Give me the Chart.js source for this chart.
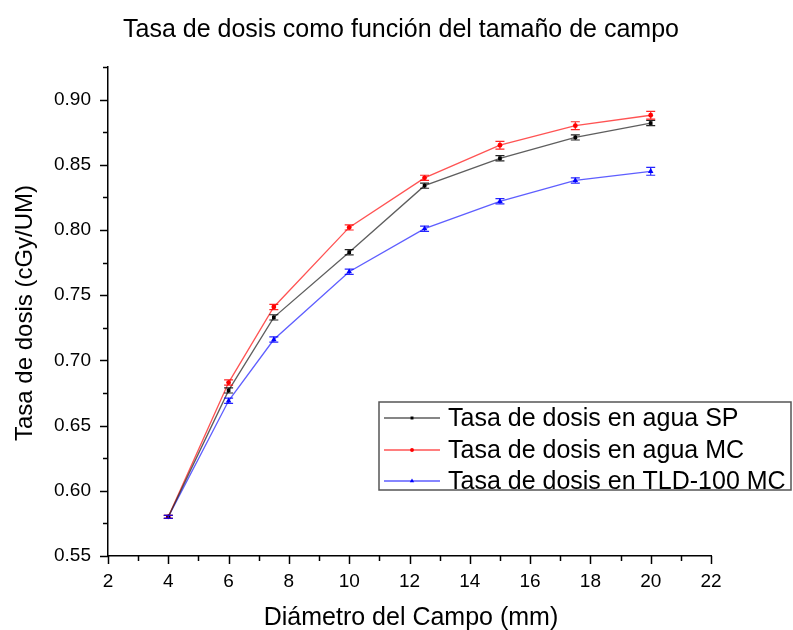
<!DOCTYPE html>
<html><head><meta charset="utf-8">
<script src="https://cdn.jsdelivr.net/npm/chart.js@4/dist/chart.umd.min.js"></script>
<style>html,body{margin:0;padding:0;background:#fff;overflow:hidden}canvas{display:block}</style>
</head><body>
<canvas id="c" width="793" height="630"></canvas>
<script>
// ---- data ----
const fieldDiameters = [4, 6, 7.5, 10, 12.5, 15, 17.5, 20];
const rateWaterSP = [0.580, 0.677, 0.733, 0.783, 0.834, 0.855, 0.871, 0.882];
const rateWaterMC = [0.580, 0.683, 0.741, 0.802, 0.840, 0.865, 0.880, 0.888];
const rateTLDMC   = [0.580, 0.669, 0.716, 0.768, 0.801, 0.822, 0.838, 0.845];
const errWaterSP  = [0.0012, 0.002, 0.002, 0.002, 0.002, 0.002, 0.002, 0.002];
const errWaterMC  = [0.0012, 0.002, 0.002, 0.002, 0.002, 0.003, 0.003, 0.003];
const errTLDMC    = [0.0012, 0.002, 0.002, 0.002, 0.002, 0.002, 0.002, 0.003];
const seriesNames = ['Tasa de dosis en agua SP', 'Tasa de dosis en agua MC', 'Tasa de dosis en TLD-100 MC'];
const xTickLabels = [2, 4, 6, 8, 10, 12, 14, 16, 18, 20, 22];
const yTickLabels = [0.55, 0.60, 0.65, 0.70, 0.75, 0.80, 0.85, 0.90];
const chartTitle = 'Tasa de dosis como función del tamaño de campo';
const xAxisTitle = 'Diámetro del Campo (mm)';
const yAxisTitle = 'Tasa de dosis (cGy/UM)';

const FONT = '"Liberation Sans", Arial, sans-serif';
const lineColors = ['rgba(40,40,40,0.75)', 'rgba(255,40,40,0.8)', 'rgba(40,40,255,0.75)'];
const markColors = ['#000000', '#ff0000', '#0000ff'];
const markStyles = ['rect', 'circle', 'triangle'];
const markRadius = [2.6, 2.4, 3.2];
const seriesVals = [rateWaterSP, rateWaterMC, rateTLDMC];
const seriesErrs = [errWaterSP, errWaterMC, errTLDMC];

const datasets = seriesVals.map((vals, k) => ({
  label: seriesNames[k],
  data: fieldDiameters.map((x, i) => ({x: x, y: vals[i]})),
  errors: seriesErrs[k],
  borderColor: lineColors[k],
  borderWidth: 1.3,
  pointStyle: markStyles[k],
  pointRadius: markRadius[k],
  pointBackgroundColor: markColors[k],
  pointBorderColor: markColors[k],
  pointBorderWidth: 0,
  tension: 0,
  fill: false
}));

const extras = {
  id: 'extras',
  afterDatasetsDraw(chart) {
    const ctx = chart.ctx, y = chart.scales.y;
    chart.data.datasets.forEach((ds, k) => {
      const meta = chart.getDatasetMeta(k);
      ctx.save();
      ctx.strokeStyle = markColors[k];
      ctx.globalAlpha = 0.85;
      ctx.lineWidth = 1.2;
      meta.data.forEach((pt, i) => {
        const v = ds.data[i].y, e = ds.errors[i];
        const yt = y.getPixelForValue(v + e), yb = y.getPixelForValue(v - e);
        ctx.beginPath();
        ctx.moveTo(pt.x, yt); ctx.lineTo(pt.x, yb);
        ctx.moveTo(pt.x - 4.5, yt); ctx.lineTo(pt.x + 4.5, yt);
        ctx.moveTo(pt.x - 4.5, yb); ctx.lineTo(pt.x + 4.5, yb);
        ctx.stroke();
      });
      ctx.restore();
    });
  },
  afterDraw(chart) {
    const ctx = chart.ctx, a = chart.chartArea, xs = chart.scales.x, ys = chart.scales.y;
    ctx.save();
    ctx.strokeStyle = '#000'; ctx.lineWidth = 1.5;
    // y ticks major/minor
    for (let i = 0; i <= 15; i++) {
      const v = 0.55 + i * 0.025;
      const p = Math.round(ys.getPixelForValue(v)) + 0.5;
      const len = i % 2 === 0 ? 8 : 5;
      ctx.beginPath(); ctx.moveTo(a.left, p); ctx.lineTo(a.left - len, p); ctx.stroke();
    }
    for (let v = 2; v <= 22; v++) {
      const p = Math.round(xs.getPixelForValue(v)) + 0.5;
      const len = v % 2 === 0 ? 8 : 5;
      ctx.beginPath(); ctx.moveTo(p, a.bottom); ctx.lineTo(p, a.bottom + len); ctx.stroke();
    }
    // titles
    ctx.fillStyle = '#000';
    ctx.textAlign = 'center';
    ctx.textBaseline = 'alphabetic';
    ctx.font = '25px ' + FONT;
    ctx.fillText(chartTitle, 401, 37);
    ctx.fillText(xAxisTitle, 411, 625);
    ctx.save();
    ctx.translate(32, 313);
    ctx.rotate(-Math.PI / 2);
    ctx.font = '24px ' + FONT;
    ctx.fillText(yAxisTitle, 0, 0);
    ctx.restore();
    // legend
    const lx = 379, ly = 402, lw = 412, lh = 88;
    ctx.fillStyle = '#fff';
    ctx.fillRect(lx, ly, lw, lh);
    ctx.strokeStyle = '#555'; ctx.lineWidth = 1.5;
    ctx.strokeRect(lx, ly, lw, lh);
    const rows = [418, 450, 481];
    ctx.font = '25px ' + FONT;
    ctx.textAlign = 'left';
    ctx.textBaseline = 'middle';
    seriesNames.forEach((name, k) => {
      const yy = rows[k];
      ctx.strokeStyle = lineColors[k]; ctx.lineWidth = 1.3;
      ctx.beginPath(); ctx.moveTo(384, yy); ctx.lineTo(440, yy); ctx.stroke();
      ctx.fillStyle = markColors[k];
      ctx.strokeStyle = markColors[k];
      Chart.helpers.drawPoint(ctx, {pointStyle: markStyles[k], radius: markRadius[k] * 0.8, borderWidth: 0, rotation: 0}, 412, yy);
      ctx.fillStyle = '#000';
      ctx.fillText(name, 448, yy + 1);
    });
    ctx.restore();
  }
};

new Chart(document.getElementById('c'), {
  type: 'line',
  data: { datasets: datasets },
  options: {
    responsive: false,
    animation: false,
    layout: { padding: { left: 0, right: 82, top: 67, bottom: 0 } },
    plugins: { legend: { display: false }, title: { display: false }, tooltip: { enabled: false } },
    scales: {
      x: {
        type: 'linear', min: 2, max: 22,
        afterBuildTicks: s => { s.ticks = xTickLabels.map(v => ({value: v})); },
        afterFit: s => { s.height = 74; },
        grid: { display: false, drawTicks: false },
        border: { display: true, color: '#000', width: 1.5 },
        ticks: { padding: 14, color: '#000', font: { family: FONT, size: 19 }, maxRotation: 0, autoSkip: false,
                 callback: v => String(v) }
      },
      y: {
        type: 'linear', min: 0.55, max: 0.925,
        afterBuildTicks: s => { s.ticks = yTickLabels.map(v => ({value: v})); },
        afterFit: s => { s.width = 108; },
        grid: { display: false, drawTicks: false },
        border: { display: true, color: '#000', width: 1.5 },
        ticks: { padding: 17, color: '#000', font: { family: FONT, size: 19 }, autoSkip: false,
                 callback: v => Number(v).toFixed(2) }
      }
    }
  },
  plugins: [extras]
});
</script>
</body></html>
